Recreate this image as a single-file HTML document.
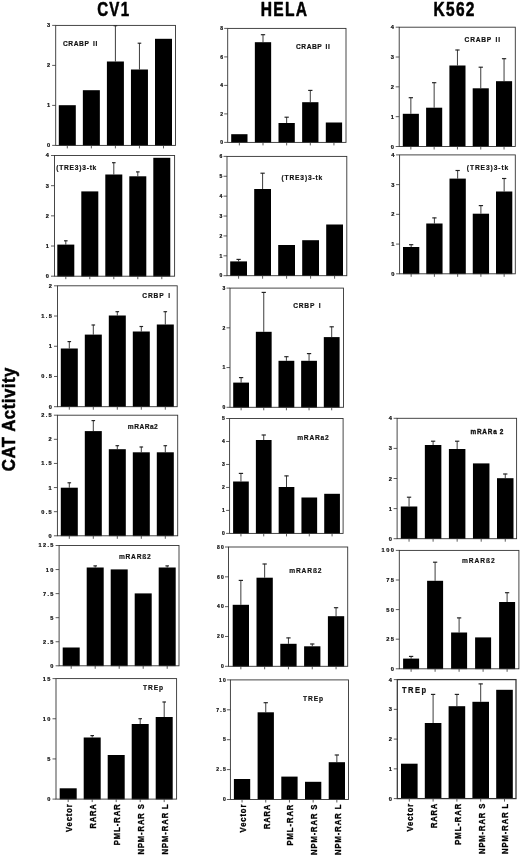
<!DOCTYPE html>
<html lang="en">
<head>
<meta charset="utf-8">
<title>CAT Activity</title>
<style>
html,body{margin:0;padding:0;background:#fff;}
body{width:520px;height:856px;overflow:hidden;}
svg{display:block;}
svg text{font-family:"Liberation Sans",Arial,Helvetica,sans-serif;font-weight:bold;}
</style>
</head>
<body>
<svg width="520" height="856" viewBox="0 0 520 856" font-weight="bold" fill="#000">
<rect x="0" y="0" width="520" height="856" fill="#fff"/>
<text transform="translate(97.2,15.7) scale(0.775,1)" font-size="19.5" letter-spacing="1.6" stroke="#000" stroke-width="0.55" stroke-linejoin="round">CV1</text>
<text transform="translate(260.8,15.7) scale(0.8,1)" font-size="19.5" letter-spacing="1.6" stroke="#000" stroke-width="0.55" stroke-linejoin="round">HELA</text>
<text transform="translate(433.6,15.7) scale(0.795,1)" font-size="19.5" letter-spacing="1.6" stroke="#000" stroke-width="0.55" stroke-linejoin="round">K562</text>
<text transform="translate(14.9,471.2) rotate(-90) scale(0.875,1)" font-size="19.2" letter-spacing="0.6" stroke="#000" stroke-width="0.55" stroke-linejoin="round">CAT Activity</text>
<g>
<rect x="58.80" y="105.20" width="17.00" height="40.50" fill="#000"/>
<path d="M67.30 145.40V148.40" stroke="#333" stroke-width="0.8" fill="none"/>
<rect x="82.85" y="90.20" width="17.00" height="55.50" fill="#000"/>
<path d="M91.35 145.40V148.40" stroke="#333" stroke-width="0.8" fill="none"/>
<path d="M115.40 61.50V25.50" stroke="#333" stroke-width="0.95" fill="none"/><path d="M113.60 25.70H117.20" stroke="#222" stroke-width="1.15" fill="none"/>
<rect x="106.90" y="61.50" width="17.00" height="84.20" fill="#000"/>
<path d="M115.40 145.40V148.40" stroke="#333" stroke-width="0.8" fill="none"/>
<path d="M139.45 69.50V43.00" stroke="#333" stroke-width="0.95" fill="none"/><path d="M137.65 43.20H141.25" stroke="#222" stroke-width="1.15" fill="none"/>
<rect x="130.95" y="69.50" width="17.00" height="76.20" fill="#000"/>
<path d="M139.45 145.40V148.40" stroke="#333" stroke-width="0.8" fill="none"/>
<rect x="155.00" y="38.80" width="17.00" height="106.90" fill="#000"/>
<path d="M163.50 145.40V148.40" stroke="#333" stroke-width="0.8" fill="none"/>
<rect x="55.70" y="25.40" width="119.80" height="120.00" fill="none" stroke="#333" stroke-width="0.9"/>
<path d="M52.20 145.40H55.70" stroke="#333" stroke-width="0.8" fill="none"/>
<text x="51.35" y="147.39" font-size="5.6" text-anchor="end" letter-spacing="1.35" fill="#111" stroke="#111" stroke-width="0.22">0</text>
<path d="M52.20 105.40H55.70" stroke="#333" stroke-width="0.8" fill="none"/>
<text x="51.35" y="107.39" font-size="5.6" text-anchor="end" letter-spacing="1.35" fill="#111" stroke="#111" stroke-width="0.22">1</text>
<path d="M52.20 65.40H55.70" stroke="#333" stroke-width="0.8" fill="none"/>
<text x="51.35" y="67.39" font-size="5.6" text-anchor="end" letter-spacing="1.35" fill="#111" stroke="#111" stroke-width="0.22">2</text>
<path d="M52.20 25.40H55.70" stroke="#333" stroke-width="0.8" fill="none"/>
<text x="51.35" y="27.39" font-size="5.6" text-anchor="end" letter-spacing="1.35" fill="#111" stroke="#111" stroke-width="0.22">3</text>
<text transform="translate(62.9,46.30) scale(0.92,1)" font-size="7.21" textLength="37.39" lengthAdjust="spacing" word-spacing="1.2" fill="#111" stroke="#111" stroke-width="0.2">CRABP II</text>
</g>
<g>
<path d="M65.80 244.60V240.60" stroke="#333" stroke-width="0.95" fill="none"/><path d="M64.00 240.80H67.60" stroke="#222" stroke-width="1.15" fill="none"/>
<rect x="57.30" y="244.60" width="17.00" height="31.90" fill="#000"/>
<path d="M65.80 276.20V279.20" stroke="#333" stroke-width="0.8" fill="none"/>
<rect x="81.30" y="191.40" width="17.00" height="85.10" fill="#000"/>
<path d="M89.80 276.20V279.20" stroke="#333" stroke-width="0.8" fill="none"/>
<path d="M113.80 174.50V162.50" stroke="#333" stroke-width="0.95" fill="none"/><path d="M112.00 162.70H115.60" stroke="#222" stroke-width="1.15" fill="none"/>
<rect x="105.30" y="174.50" width="17.00" height="102.00" fill="#000"/>
<path d="M113.80 276.20V279.20" stroke="#333" stroke-width="0.8" fill="none"/>
<path d="M137.80 176.30V171.70" stroke="#333" stroke-width="0.95" fill="none"/><path d="M136.00 171.90H139.60" stroke="#222" stroke-width="1.15" fill="none"/>
<rect x="129.30" y="176.30" width="17.00" height="100.20" fill="#000"/>
<path d="M137.80 276.20V279.20" stroke="#333" stroke-width="0.8" fill="none"/>
<rect x="153.30" y="157.80" width="17.00" height="118.70" fill="#000"/>
<path d="M161.80 276.20V279.20" stroke="#333" stroke-width="0.8" fill="none"/>
<rect x="54.50" y="155.50" width="120.10" height="120.70" fill="none" stroke="#333" stroke-width="0.9"/>
<path d="M51.00 276.20H54.50" stroke="#333" stroke-width="0.8" fill="none"/>
<text x="50.15" y="278.19" font-size="5.6" text-anchor="end" letter-spacing="1.35" fill="#111" stroke="#111" stroke-width="0.22">0</text>
<path d="M51.00 246.02H54.50" stroke="#333" stroke-width="0.8" fill="none"/>
<text x="50.15" y="248.01" font-size="5.6" text-anchor="end" letter-spacing="1.35" fill="#111" stroke="#111" stroke-width="0.22">1</text>
<path d="M51.00 215.85H54.50" stroke="#333" stroke-width="0.8" fill="none"/>
<text x="50.15" y="217.84" font-size="5.6" text-anchor="end" letter-spacing="1.35" fill="#111" stroke="#111" stroke-width="0.22">2</text>
<path d="M51.00 185.68H54.50" stroke="#333" stroke-width="0.8" fill="none"/>
<text x="50.15" y="187.66" font-size="5.6" text-anchor="end" letter-spacing="1.35" fill="#111" stroke="#111" stroke-width="0.22">3</text>
<path d="M51.00 155.50H54.50" stroke="#333" stroke-width="0.8" fill="none"/>
<text x="50.15" y="157.49" font-size="5.6" text-anchor="end" letter-spacing="1.35" fill="#111" stroke="#111" stroke-width="0.22">4</text>
<text transform="translate(56.3,170.40) scale(0.92,1)" font-size="7.21" textLength="43.48" lengthAdjust="spacing" word-spacing="1.2" fill="#111" stroke="#111" stroke-width="0.2">(TRE3)3-tk</text>
</g>
<g>
<path d="M69.30 348.50V341.40" stroke="#333" stroke-width="0.95" fill="none"/><path d="M67.50 341.60H71.10" stroke="#222" stroke-width="1.15" fill="none"/>
<rect x="60.80" y="348.50" width="17.00" height="58.50" fill="#000"/>
<path d="M69.30 406.70V409.70" stroke="#333" stroke-width="0.8" fill="none"/>
<path d="M93.30 334.60V324.80" stroke="#333" stroke-width="0.95" fill="none"/><path d="M91.50 325.00H95.10" stroke="#222" stroke-width="1.15" fill="none"/>
<rect x="84.80" y="334.60" width="17.00" height="72.40" fill="#000"/>
<path d="M93.30 406.70V409.70" stroke="#333" stroke-width="0.8" fill="none"/>
<path d="M117.30 315.50V311.50" stroke="#333" stroke-width="0.95" fill="none"/><path d="M115.50 311.70H119.10" stroke="#222" stroke-width="1.15" fill="none"/>
<rect x="108.80" y="315.50" width="17.00" height="91.50" fill="#000"/>
<path d="M117.30 406.70V409.70" stroke="#333" stroke-width="0.8" fill="none"/>
<path d="M141.30 331.50V326.30" stroke="#333" stroke-width="0.95" fill="none"/><path d="M139.50 326.50H143.10" stroke="#222" stroke-width="1.15" fill="none"/>
<rect x="132.80" y="331.50" width="17.00" height="75.50" fill="#000"/>
<path d="M141.30 406.70V409.70" stroke="#333" stroke-width="0.8" fill="none"/>
<path d="M165.30 324.50V311.50" stroke="#333" stroke-width="0.95" fill="none"/><path d="M163.50 311.70H167.10" stroke="#222" stroke-width="1.15" fill="none"/>
<rect x="156.80" y="324.50" width="17.00" height="82.50" fill="#000"/>
<path d="M165.30 406.70V409.70" stroke="#333" stroke-width="0.8" fill="none"/>
<rect x="57.50" y="285.80" width="119.70" height="120.90" fill="none" stroke="#333" stroke-width="0.9"/>
<path d="M54.00 406.70H57.50" stroke="#333" stroke-width="0.8" fill="none"/>
<text x="53.15" y="408.69" font-size="5.6" text-anchor="end" letter-spacing="1.35" fill="#111" stroke="#111" stroke-width="0.22">0</text>
<path d="M54.00 376.48H57.50" stroke="#333" stroke-width="0.8" fill="none"/>
<text x="53.15" y="378.46" font-size="5.6" text-anchor="end" letter-spacing="1.35" fill="#111" stroke="#111" stroke-width="0.22">0.5</text>
<path d="M54.00 346.25H57.50" stroke="#333" stroke-width="0.8" fill="none"/>
<text x="53.15" y="348.24" font-size="5.6" text-anchor="end" letter-spacing="1.35" fill="#111" stroke="#111" stroke-width="0.22">1</text>
<path d="M54.00 316.02H57.50" stroke="#333" stroke-width="0.8" fill="none"/>
<text x="53.15" y="318.01" font-size="5.6" text-anchor="end" letter-spacing="1.35" fill="#111" stroke="#111" stroke-width="0.22">1.5</text>
<path d="M54.00 285.80H57.50" stroke="#333" stroke-width="0.8" fill="none"/>
<text x="53.15" y="287.79" font-size="5.6" text-anchor="end" letter-spacing="1.35" fill="#111" stroke="#111" stroke-width="0.22">2</text>
<text transform="translate(142.3,297.60) scale(0.92,1)" font-size="7.21" textLength="30.11" lengthAdjust="spacing" word-spacing="1.2" fill="#111" stroke="#111" stroke-width="0.2">CRBP I</text>
</g>
<g>
<path d="M69.30 487.70V482.60" stroke="#333" stroke-width="0.95" fill="none"/><path d="M67.50 482.80H71.10" stroke="#222" stroke-width="1.15" fill="none"/>
<rect x="60.80" y="487.70" width="17.00" height="48.40" fill="#000"/>
<path d="M69.30 535.80V538.80" stroke="#333" stroke-width="0.8" fill="none"/>
<path d="M93.30 431.10V420.40" stroke="#333" stroke-width="0.95" fill="none"/><path d="M91.50 420.60H95.10" stroke="#222" stroke-width="1.15" fill="none"/>
<rect x="84.80" y="431.10" width="17.00" height="105.00" fill="#000"/>
<path d="M93.30 535.80V538.80" stroke="#333" stroke-width="0.8" fill="none"/>
<path d="M117.30 449.20V445.50" stroke="#333" stroke-width="0.95" fill="none"/><path d="M115.50 445.70H119.10" stroke="#222" stroke-width="1.15" fill="none"/>
<rect x="108.80" y="449.20" width="17.00" height="86.90" fill="#000"/>
<path d="M117.30 535.80V538.80" stroke="#333" stroke-width="0.8" fill="none"/>
<path d="M141.30 452.30V446.80" stroke="#333" stroke-width="0.95" fill="none"/><path d="M139.50 447.00H143.10" stroke="#222" stroke-width="1.15" fill="none"/>
<rect x="132.80" y="452.30" width="17.00" height="83.80" fill="#000"/>
<path d="M141.30 535.80V538.80" stroke="#333" stroke-width="0.8" fill="none"/>
<path d="M165.30 452.30V445.50" stroke="#333" stroke-width="0.95" fill="none"/><path d="M163.50 445.70H167.10" stroke="#222" stroke-width="1.15" fill="none"/>
<rect x="156.80" y="452.30" width="17.00" height="83.80" fill="#000"/>
<path d="M165.30 535.80V538.80" stroke="#333" stroke-width="0.8" fill="none"/>
<rect x="57.40" y="415.20" width="120.30" height="120.60" fill="none" stroke="#333" stroke-width="0.9"/>
<path d="M53.90 535.80H57.40" stroke="#333" stroke-width="0.8" fill="none"/>
<text x="53.05" y="537.79" font-size="5.6" text-anchor="end" letter-spacing="1.35" fill="#111" stroke="#111" stroke-width="0.22">0</text>
<path d="M53.90 511.68H57.40" stroke="#333" stroke-width="0.8" fill="none"/>
<text x="53.05" y="513.67" font-size="5.6" text-anchor="end" letter-spacing="1.35" fill="#111" stroke="#111" stroke-width="0.22">0.5</text>
<path d="M53.90 487.56H57.40" stroke="#333" stroke-width="0.8" fill="none"/>
<text x="53.05" y="489.55" font-size="5.6" text-anchor="end" letter-spacing="1.35" fill="#111" stroke="#111" stroke-width="0.22">1</text>
<path d="M53.90 463.44H57.40" stroke="#333" stroke-width="0.8" fill="none"/>
<text x="53.05" y="465.43" font-size="5.6" text-anchor="end" letter-spacing="1.35" fill="#111" stroke="#111" stroke-width="0.22">1.5</text>
<path d="M53.90 439.32H57.40" stroke="#333" stroke-width="0.8" fill="none"/>
<text x="53.05" y="441.31" font-size="5.6" text-anchor="end" letter-spacing="1.35" fill="#111" stroke="#111" stroke-width="0.22">2</text>
<path d="M53.90 415.20H57.40" stroke="#333" stroke-width="0.8" fill="none"/>
<text x="53.05" y="417.19" font-size="5.6" text-anchor="end" letter-spacing="1.35" fill="#111" stroke="#111" stroke-width="0.22">2.5</text>
<text transform="translate(127.8,429.40) scale(0.92,1)" font-size="7.21" textLength="32.61" lengthAdjust="spacing" word-spacing="1.2" fill="#111" stroke="#111" stroke-width="0.2">mRARa2</text>
</g>
<g>
<rect x="62.70" y="647.50" width="17.00" height="18.60" fill="#000"/>
<path d="M71.20 665.80V668.80" stroke="#333" stroke-width="0.8" fill="none"/>
<path d="M95.20 567.50V565.70" stroke="#333" stroke-width="0.95" fill="none"/><path d="M93.40 565.90H97.00" stroke="#222" stroke-width="1.15" fill="none"/>
<rect x="86.70" y="567.50" width="17.00" height="98.60" fill="#000"/>
<path d="M95.20 665.80V668.80" stroke="#333" stroke-width="0.8" fill="none"/>
<rect x="110.70" y="569.40" width="17.00" height="96.70" fill="#000"/>
<path d="M119.20 665.80V668.80" stroke="#333" stroke-width="0.8" fill="none"/>
<rect x="134.70" y="593.40" width="17.00" height="72.70" fill="#000"/>
<path d="M143.20 665.80V668.80" stroke="#333" stroke-width="0.8" fill="none"/>
<path d="M167.20 567.50V565.70" stroke="#333" stroke-width="0.95" fill="none"/><path d="M165.40 565.90H169.00" stroke="#222" stroke-width="1.15" fill="none"/>
<rect x="158.70" y="567.50" width="17.00" height="98.60" fill="#000"/>
<path d="M167.20 665.80V668.80" stroke="#333" stroke-width="0.8" fill="none"/>
<rect x="59.10" y="545.50" width="119.90" height="120.30" fill="none" stroke="#333" stroke-width="0.9"/>
<path d="M55.60 665.80H59.10" stroke="#333" stroke-width="0.8" fill="none"/>
<text x="54.75" y="667.79" font-size="5.6" text-anchor="end" letter-spacing="1.35" fill="#111" stroke="#111" stroke-width="0.22">0</text>
<path d="M55.60 641.74H59.10" stroke="#333" stroke-width="0.8" fill="none"/>
<text x="54.75" y="643.73" font-size="5.6" text-anchor="end" letter-spacing="1.35" fill="#111" stroke="#111" stroke-width="0.22">2.5</text>
<path d="M55.60 617.68H59.10" stroke="#333" stroke-width="0.8" fill="none"/>
<text x="54.75" y="619.67" font-size="5.6" text-anchor="end" letter-spacing="1.35" fill="#111" stroke="#111" stroke-width="0.22">5</text>
<path d="M55.60 593.62H59.10" stroke="#333" stroke-width="0.8" fill="none"/>
<text x="54.75" y="595.61" font-size="5.6" text-anchor="end" letter-spacing="1.35" fill="#111" stroke="#111" stroke-width="0.22">7.5</text>
<path d="M55.60 569.56H59.10" stroke="#333" stroke-width="0.8" fill="none"/>
<text x="54.75" y="571.55" font-size="5.6" text-anchor="end" letter-spacing="1.35" fill="#111" stroke="#111" stroke-width="0.22">10</text>
<path d="M55.60 545.50H59.10" stroke="#333" stroke-width="0.8" fill="none"/>
<text x="54.75" y="547.49" font-size="5.6" text-anchor="end" letter-spacing="1.35" fill="#111" stroke="#111" stroke-width="0.22">12.5</text>
<text transform="translate(119.0,558.90) scale(0.92,1)" font-size="7.21" textLength="34.35" lengthAdjust="spacing" word-spacing="1.2" fill="#111" stroke="#111" stroke-width="0.2">mRARß2</text>
</g>
<g>
<rect x="59.70" y="788.30" width="17.00" height="11.10" fill="#000"/>
<path d="M68.20 799.10V802.10" stroke="#333" stroke-width="0.8" fill="none"/>
<path d="M92.20 737.50V735.40" stroke="#333" stroke-width="0.95" fill="none"/><path d="M90.40 735.60H94.00" stroke="#222" stroke-width="1.15" fill="none"/>
<rect x="83.70" y="737.50" width="17.00" height="61.90" fill="#000"/>
<path d="M92.20 799.10V802.10" stroke="#333" stroke-width="0.8" fill="none"/>
<rect x="107.70" y="755.00" width="17.00" height="44.40" fill="#000"/>
<path d="M116.20 799.10V802.10" stroke="#333" stroke-width="0.8" fill="none"/>
<path d="M140.20 724.00V718.50" stroke="#333" stroke-width="0.95" fill="none"/><path d="M138.40 718.70H142.00" stroke="#222" stroke-width="1.15" fill="none"/>
<rect x="131.70" y="724.00" width="17.00" height="75.40" fill="#000"/>
<path d="M140.20 799.10V802.10" stroke="#333" stroke-width="0.8" fill="none"/>
<path d="M164.20 717.00V701.80" stroke="#333" stroke-width="0.95" fill="none"/><path d="M162.40 702.00H166.00" stroke="#222" stroke-width="1.15" fill="none"/>
<rect x="155.70" y="717.00" width="17.00" height="82.40" fill="#000"/>
<path d="M164.20 799.10V802.10" stroke="#333" stroke-width="0.8" fill="none"/>
<rect x="56.00" y="678.60" width="120.60" height="120.50" fill="none" stroke="#333" stroke-width="0.9"/>
<path d="M52.50 799.10H56.00" stroke="#333" stroke-width="0.8" fill="none"/>
<text x="51.65" y="801.09" font-size="5.6" text-anchor="end" letter-spacing="1.35" fill="#111" stroke="#111" stroke-width="0.22">0</text>
<path d="M52.50 758.93H56.00" stroke="#333" stroke-width="0.8" fill="none"/>
<text x="51.65" y="760.92" font-size="5.6" text-anchor="end" letter-spacing="1.35" fill="#111" stroke="#111" stroke-width="0.22">5</text>
<path d="M52.50 718.77H56.00" stroke="#333" stroke-width="0.8" fill="none"/>
<text x="51.65" y="720.75" font-size="5.6" text-anchor="end" letter-spacing="1.35" fill="#111" stroke="#111" stroke-width="0.22">10</text>
<path d="M52.50 678.60H56.00" stroke="#333" stroke-width="0.8" fill="none"/>
<text x="51.65" y="680.59" font-size="5.6" text-anchor="end" letter-spacing="1.35" fill="#111" stroke="#111" stroke-width="0.22">15</text>
<text transform="translate(143.0,690.10) scale(0.92,1)" font-size="7.21" textLength="21.74" lengthAdjust="spacing" word-spacing="1.2" fill="#111" stroke="#111" stroke-width="0.2">TREp</text>
<text transform="translate(72.10,832.00) rotate(-90) scale(0.9,1)" font-size="8.5" textLength="30.89" lengthAdjust="spacing" fill="#000" stroke="#000" stroke-width="0.3">Vector</text>
<text transform="translate(96.10,828.50) rotate(-90) scale(0.9,1)" font-size="8.5" textLength="27.00" lengthAdjust="spacing" fill="#000" stroke="#000" stroke-width="0.3">RARA</text>
<text transform="translate(120.10,845.20) rotate(-90) scale(0.9,1)" font-size="8.5" textLength="45.56" lengthAdjust="spacing" fill="#000" stroke="#000" stroke-width="0.3">PML-RAR</text>
<text transform="translate(144.10,854.50) rotate(-90) scale(0.9,1)" font-size="8.5" textLength="55.89" lengthAdjust="spacing" fill="#000" stroke="#000" stroke-width="0.3">NPM-RAR S</text>
<text transform="translate(168.10,854.50) rotate(-90) scale(0.9,1)" font-size="8.5" textLength="55.89" lengthAdjust="spacing" fill="#000" stroke="#000" stroke-width="0.3">NPM-RAR L</text>
</g>
<g>
<rect x="231.20" y="134.20" width="16.30" height="8.50" fill="#000"/>
<path d="M239.35 142.40V145.40" stroke="#333" stroke-width="0.8" fill="none"/>
<path d="M263.00 42.20V34.50" stroke="#333" stroke-width="0.95" fill="none"/><path d="M260.85 34.70H265.15" stroke="#222" stroke-width="1.15" fill="none"/>
<rect x="254.85" y="42.20" width="16.30" height="100.50" fill="#000"/>
<path d="M263.00 142.40V145.40" stroke="#333" stroke-width="0.8" fill="none"/>
<path d="M286.65 123.00V117.00" stroke="#333" stroke-width="0.95" fill="none"/><path d="M284.50 117.20H288.80" stroke="#222" stroke-width="1.15" fill="none"/>
<rect x="278.50" y="123.00" width="16.30" height="19.70" fill="#000"/>
<path d="M286.65 142.40V145.40" stroke="#333" stroke-width="0.8" fill="none"/>
<path d="M310.30 102.20V90.20" stroke="#333" stroke-width="0.95" fill="none"/><path d="M308.15 90.40H312.45" stroke="#222" stroke-width="1.15" fill="none"/>
<rect x="302.15" y="102.20" width="16.30" height="40.50" fill="#000"/>
<path d="M310.30 142.40V145.40" stroke="#333" stroke-width="0.8" fill="none"/>
<rect x="325.80" y="122.50" width="16.30" height="20.20" fill="#000"/>
<path d="M333.95 142.40V145.40" stroke="#333" stroke-width="0.8" fill="none"/>
<rect x="227.70" y="28.40" width="118.30" height="114.00" fill="none" stroke="#333" stroke-width="0.9"/>
<path d="M224.20 142.40H227.70" stroke="#333" stroke-width="0.8" fill="none"/>
<text x="224.20" y="144.18" font-size="5.0" text-anchor="end" letter-spacing="1.2" fill="#111" stroke="#111" stroke-width="0.22">0</text>
<path d="M224.20 113.90H227.70" stroke="#333" stroke-width="0.8" fill="none"/>
<text x="224.20" y="115.68" font-size="5.0" text-anchor="end" letter-spacing="1.2" fill="#111" stroke="#111" stroke-width="0.22">2</text>
<path d="M224.20 85.40H227.70" stroke="#333" stroke-width="0.8" fill="none"/>
<text x="224.20" y="87.18" font-size="5.0" text-anchor="end" letter-spacing="1.2" fill="#111" stroke="#111" stroke-width="0.22">4</text>
<path d="M224.20 56.90H227.70" stroke="#333" stroke-width="0.8" fill="none"/>
<text x="224.20" y="58.68" font-size="5.0" text-anchor="end" letter-spacing="1.2" fill="#111" stroke="#111" stroke-width="0.22">6</text>
<path d="M224.20 28.40H227.70" stroke="#333" stroke-width="0.8" fill="none"/>
<text x="224.20" y="30.18" font-size="5.0" text-anchor="end" letter-spacing="1.2" fill="#111" stroke="#111" stroke-width="0.22">8</text>
<text transform="translate(296.0,49.10) scale(0.92,1)" font-size="7.21" textLength="36.74" lengthAdjust="spacing" word-spacing="1.2" fill="#111" stroke="#111" stroke-width="0.2">CRABP II</text>
</g>
<g>
<path d="M238.60 261.40V259.20" stroke="#333" stroke-width="0.95" fill="none"/><path d="M236.45 259.40H240.75" stroke="#222" stroke-width="1.15" fill="none"/>
<rect x="230.20" y="261.40" width="16.80" height="14.60" fill="#000"/>
<path d="M238.60 275.70V278.70" stroke="#333" stroke-width="0.8" fill="none"/>
<path d="M262.60 189.00V173.00" stroke="#333" stroke-width="0.95" fill="none"/><path d="M260.45 173.20H264.75" stroke="#222" stroke-width="1.15" fill="none"/>
<rect x="254.20" y="189.00" width="16.80" height="87.00" fill="#000"/>
<path d="M262.60 275.70V278.70" stroke="#333" stroke-width="0.8" fill="none"/>
<rect x="278.20" y="245.00" width="16.80" height="31.00" fill="#000"/>
<path d="M286.60 275.70V278.70" stroke="#333" stroke-width="0.8" fill="none"/>
<rect x="302.20" y="240.20" width="16.80" height="35.80" fill="#000"/>
<path d="M310.60 275.70V278.70" stroke="#333" stroke-width="0.8" fill="none"/>
<rect x="326.20" y="224.50" width="16.80" height="51.50" fill="#000"/>
<path d="M334.60 275.70V278.70" stroke="#333" stroke-width="0.8" fill="none"/>
<rect x="227.00" y="156.40" width="119.80" height="119.30" fill="none" stroke="#333" stroke-width="0.9"/>
<path d="M223.50 275.70H227.00" stroke="#333" stroke-width="0.8" fill="none"/>
<text x="223.50" y="277.47" font-size="5.0" text-anchor="end" letter-spacing="1.2" fill="#111" stroke="#111" stroke-width="0.22">0</text>
<path d="M223.50 255.82H227.00" stroke="#333" stroke-width="0.8" fill="none"/>
<text x="223.50" y="257.59" font-size="5.0" text-anchor="end" letter-spacing="1.2" fill="#111" stroke="#111" stroke-width="0.22">1</text>
<path d="M223.50 235.93H227.00" stroke="#333" stroke-width="0.8" fill="none"/>
<text x="223.50" y="237.71" font-size="5.0" text-anchor="end" letter-spacing="1.2" fill="#111" stroke="#111" stroke-width="0.22">2</text>
<path d="M223.50 216.05H227.00" stroke="#333" stroke-width="0.8" fill="none"/>
<text x="223.50" y="217.82" font-size="5.0" text-anchor="end" letter-spacing="1.2" fill="#111" stroke="#111" stroke-width="0.22">3</text>
<path d="M223.50 196.17H227.00" stroke="#333" stroke-width="0.8" fill="none"/>
<text x="223.50" y="197.94" font-size="5.0" text-anchor="end" letter-spacing="1.2" fill="#111" stroke="#111" stroke-width="0.22">4</text>
<path d="M223.50 176.28H227.00" stroke="#333" stroke-width="0.8" fill="none"/>
<text x="223.50" y="178.06" font-size="5.0" text-anchor="end" letter-spacing="1.2" fill="#111" stroke="#111" stroke-width="0.22">5</text>
<path d="M223.50 156.40H227.00" stroke="#333" stroke-width="0.8" fill="none"/>
<text x="223.50" y="158.17" font-size="5.0" text-anchor="end" letter-spacing="1.2" fill="#111" stroke="#111" stroke-width="0.22">6</text>
<text transform="translate(281.5,179.90) scale(0.92,1)" font-size="7.21" textLength="44.35" lengthAdjust="spacing" word-spacing="1.2" fill="#111" stroke="#111" stroke-width="0.2">(TRE3)3-tk</text>
</g>
<g>
<path d="M241.10 382.60V377.40" stroke="#333" stroke-width="0.95" fill="none"/><path d="M238.95 377.60H243.25" stroke="#222" stroke-width="1.15" fill="none"/>
<rect x="233.20" y="382.60" width="15.80" height="25.00" fill="#000"/>
<path d="M241.10 407.30V410.30" stroke="#333" stroke-width="0.8" fill="none"/>
<path d="M263.75 331.80V292.20" stroke="#333" stroke-width="0.95" fill="none"/><path d="M261.60 292.40H265.90" stroke="#222" stroke-width="1.15" fill="none"/>
<rect x="255.85" y="331.80" width="15.80" height="75.80" fill="#000"/>
<path d="M263.75 407.30V410.30" stroke="#333" stroke-width="0.8" fill="none"/>
<path d="M286.40 360.80V356.50" stroke="#333" stroke-width="0.95" fill="none"/><path d="M284.25 356.70H288.55" stroke="#222" stroke-width="1.15" fill="none"/>
<rect x="278.50" y="360.80" width="15.80" height="46.80" fill="#000"/>
<path d="M286.40 407.30V410.30" stroke="#333" stroke-width="0.8" fill="none"/>
<path d="M309.05 360.80V353.40" stroke="#333" stroke-width="0.95" fill="none"/><path d="M306.90 353.60H311.20" stroke="#222" stroke-width="1.15" fill="none"/>
<rect x="301.15" y="360.80" width="15.80" height="46.80" fill="#000"/>
<path d="M309.05 407.30V410.30" stroke="#333" stroke-width="0.8" fill="none"/>
<path d="M331.70 337.10V326.60" stroke="#333" stroke-width="0.95" fill="none"/><path d="M329.55 326.80H333.85" stroke="#222" stroke-width="1.15" fill="none"/>
<rect x="323.80" y="337.10" width="15.80" height="70.50" fill="#000"/>
<path d="M331.70 407.30V410.30" stroke="#333" stroke-width="0.8" fill="none"/>
<rect x="230.00" y="288.10" width="113.50" height="119.20" fill="none" stroke="#333" stroke-width="0.9"/>
<path d="M226.50 407.30H230.00" stroke="#333" stroke-width="0.8" fill="none"/>
<text x="226.50" y="409.07" font-size="5.0" text-anchor="end" letter-spacing="1.2" fill="#111" stroke="#111" stroke-width="0.22">0</text>
<path d="M226.50 367.57H230.00" stroke="#333" stroke-width="0.8" fill="none"/>
<text x="226.50" y="369.34" font-size="5.0" text-anchor="end" letter-spacing="1.2" fill="#111" stroke="#111" stroke-width="0.22">1</text>
<path d="M226.50 327.83H230.00" stroke="#333" stroke-width="0.8" fill="none"/>
<text x="226.50" y="329.61" font-size="5.0" text-anchor="end" letter-spacing="1.2" fill="#111" stroke="#111" stroke-width="0.22">2</text>
<path d="M226.50 288.10H230.00" stroke="#333" stroke-width="0.8" fill="none"/>
<text x="226.50" y="289.88" font-size="5.0" text-anchor="end" letter-spacing="1.2" fill="#111" stroke="#111" stroke-width="0.22">3</text>
<text transform="translate(293.2,308.40) scale(0.92,1)" font-size="7.21" textLength="29.78" lengthAdjust="spacing" word-spacing="1.2" fill="#111" stroke="#111" stroke-width="0.2">CRBP I</text>
</g>
<g>
<path d="M240.95 481.50V473.20" stroke="#333" stroke-width="0.95" fill="none"/><path d="M238.80 473.40H243.10" stroke="#222" stroke-width="1.15" fill="none"/>
<rect x="233.10" y="481.50" width="15.70" height="52.20" fill="#000"/>
<path d="M240.95 533.40V536.40" stroke="#333" stroke-width="0.8" fill="none"/>
<path d="M263.73 440.00V434.80" stroke="#333" stroke-width="0.95" fill="none"/><path d="M261.58 435.00H265.88" stroke="#222" stroke-width="1.15" fill="none"/>
<rect x="255.88" y="440.00" width="15.70" height="93.70" fill="#000"/>
<path d="M263.73 533.40V536.40" stroke="#333" stroke-width="0.8" fill="none"/>
<path d="M286.51 487.00V475.70" stroke="#333" stroke-width="0.95" fill="none"/><path d="M284.36 475.90H288.66" stroke="#222" stroke-width="1.15" fill="none"/>
<rect x="278.66" y="487.00" width="15.70" height="46.70" fill="#000"/>
<path d="M286.51 533.40V536.40" stroke="#333" stroke-width="0.8" fill="none"/>
<rect x="301.44" y="497.50" width="15.70" height="36.20" fill="#000"/>
<path d="M309.29 533.40V536.40" stroke="#333" stroke-width="0.8" fill="none"/>
<rect x="324.22" y="493.80" width="15.70" height="39.90" fill="#000"/>
<path d="M332.07 533.40V536.40" stroke="#333" stroke-width="0.8" fill="none"/>
<rect x="229.60" y="418.50" width="113.50" height="114.90" fill="none" stroke="#333" stroke-width="0.9"/>
<path d="M226.10 533.40H229.60" stroke="#333" stroke-width="0.8" fill="none"/>
<text x="226.10" y="535.17" font-size="5.0" text-anchor="end" letter-spacing="1.2" fill="#111" stroke="#111" stroke-width="0.22">0</text>
<path d="M226.10 510.42H229.60" stroke="#333" stroke-width="0.8" fill="none"/>
<text x="226.10" y="512.19" font-size="5.0" text-anchor="end" letter-spacing="1.2" fill="#111" stroke="#111" stroke-width="0.22">1</text>
<path d="M226.10 487.44H229.60" stroke="#333" stroke-width="0.8" fill="none"/>
<text x="226.10" y="489.21" font-size="5.0" text-anchor="end" letter-spacing="1.2" fill="#111" stroke="#111" stroke-width="0.22">2</text>
<path d="M226.10 464.46H229.60" stroke="#333" stroke-width="0.8" fill="none"/>
<text x="226.10" y="466.23" font-size="5.0" text-anchor="end" letter-spacing="1.2" fill="#111" stroke="#111" stroke-width="0.22">3</text>
<path d="M226.10 441.48H229.60" stroke="#333" stroke-width="0.8" fill="none"/>
<text x="226.10" y="443.25" font-size="5.0" text-anchor="end" letter-spacing="1.2" fill="#111" stroke="#111" stroke-width="0.22">4</text>
<path d="M226.10 418.50H229.60" stroke="#333" stroke-width="0.8" fill="none"/>
<text x="226.10" y="420.27" font-size="5.0" text-anchor="end" letter-spacing="1.2" fill="#111" stroke="#111" stroke-width="0.22">5</text>
<text transform="translate(297.2,440.20) scale(0.92,1)" font-size="7.21" textLength="34.13" lengthAdjust="spacing" word-spacing="1.2" fill="#111" stroke="#111" stroke-width="0.2">mRARa2</text>
</g>
<g>
<path d="M240.85 604.80V580.20" stroke="#333" stroke-width="0.95" fill="none"/><path d="M238.70 580.40H243.00" stroke="#222" stroke-width="1.15" fill="none"/>
<rect x="232.70" y="604.80" width="16.30" height="61.80" fill="#000"/>
<path d="M240.85 666.30V669.30" stroke="#333" stroke-width="0.8" fill="none"/>
<path d="M264.65 577.70V563.80" stroke="#333" stroke-width="0.95" fill="none"/><path d="M262.50 564.00H266.80" stroke="#222" stroke-width="1.15" fill="none"/>
<rect x="256.50" y="577.70" width="16.30" height="88.90" fill="#000"/>
<path d="M264.65 666.30V669.30" stroke="#333" stroke-width="0.8" fill="none"/>
<path d="M288.45 643.80V637.70" stroke="#333" stroke-width="0.95" fill="none"/><path d="M286.30 637.90H290.60" stroke="#222" stroke-width="1.15" fill="none"/>
<rect x="280.30" y="643.80" width="16.30" height="22.80" fill="#000"/>
<path d="M288.45 666.30V669.30" stroke="#333" stroke-width="0.8" fill="none"/>
<path d="M312.25 646.30V643.80" stroke="#333" stroke-width="0.95" fill="none"/><path d="M310.10 644.00H314.40" stroke="#222" stroke-width="1.15" fill="none"/>
<rect x="304.10" y="646.30" width="16.30" height="20.30" fill="#000"/>
<path d="M312.25 666.30V669.30" stroke="#333" stroke-width="0.8" fill="none"/>
<path d="M336.05 616.20V607.50" stroke="#333" stroke-width="0.95" fill="none"/><path d="M333.90 607.70H338.20" stroke="#222" stroke-width="1.15" fill="none"/>
<rect x="327.90" y="616.20" width="16.30" height="50.40" fill="#000"/>
<path d="M336.05 666.30V669.30" stroke="#333" stroke-width="0.8" fill="none"/>
<rect x="228.50" y="547.00" width="119.20" height="119.30" fill="none" stroke="#333" stroke-width="0.9"/>
<path d="M225.00 666.30H228.50" stroke="#333" stroke-width="0.8" fill="none"/>
<text x="225.00" y="668.07" font-size="5.0" text-anchor="end" letter-spacing="1.2" fill="#111" stroke="#111" stroke-width="0.22">0</text>
<path d="M225.00 636.47H228.50" stroke="#333" stroke-width="0.8" fill="none"/>
<text x="225.00" y="638.25" font-size="5.0" text-anchor="end" letter-spacing="1.2" fill="#111" stroke="#111" stroke-width="0.22">20</text>
<path d="M225.00 606.65H228.50" stroke="#333" stroke-width="0.8" fill="none"/>
<text x="225.00" y="608.42" font-size="5.0" text-anchor="end" letter-spacing="1.2" fill="#111" stroke="#111" stroke-width="0.22">40</text>
<path d="M225.00 576.83H228.50" stroke="#333" stroke-width="0.8" fill="none"/>
<text x="225.00" y="578.60" font-size="5.0" text-anchor="end" letter-spacing="1.2" fill="#111" stroke="#111" stroke-width="0.22">60</text>
<path d="M225.00 547.00H228.50" stroke="#333" stroke-width="0.8" fill="none"/>
<text x="225.00" y="548.77" font-size="5.0" text-anchor="end" letter-spacing="1.2" fill="#111" stroke="#111" stroke-width="0.22">80</text>
<text transform="translate(289.2,573.10) scale(0.92,1)" font-size="7.21" textLength="35.11" lengthAdjust="spacing" word-spacing="1.2" fill="#111" stroke="#111" stroke-width="0.2">mRARß2</text>
</g>
<g>
<rect x="233.90" y="779.00" width="16.30" height="20.80" fill="#000"/>
<path d="M242.05 799.50V802.50" stroke="#333" stroke-width="0.8" fill="none"/>
<path d="M265.75 712.30V702.50" stroke="#333" stroke-width="0.95" fill="none"/><path d="M263.60 702.70H267.90" stroke="#222" stroke-width="1.15" fill="none"/>
<rect x="257.60" y="712.30" width="16.30" height="87.50" fill="#000"/>
<path d="M265.75 799.50V802.50" stroke="#333" stroke-width="0.8" fill="none"/>
<rect x="281.30" y="776.60" width="16.30" height="23.20" fill="#000"/>
<path d="M289.45 799.50V802.50" stroke="#333" stroke-width="0.8" fill="none"/>
<rect x="305.00" y="781.80" width="16.30" height="18.00" fill="#000"/>
<path d="M313.15 799.50V802.50" stroke="#333" stroke-width="0.8" fill="none"/>
<path d="M336.85 762.20V754.80" stroke="#333" stroke-width="0.95" fill="none"/><path d="M334.70 755.00H339.00" stroke="#222" stroke-width="1.15" fill="none"/>
<rect x="328.70" y="762.20" width="16.30" height="37.60" fill="#000"/>
<path d="M336.85 799.50V802.50" stroke="#333" stroke-width="0.8" fill="none"/>
<rect x="230.40" y="679.90" width="118.10" height="119.60" fill="none" stroke="#333" stroke-width="0.9"/>
<path d="M226.90 799.50H230.40" stroke="#333" stroke-width="0.8" fill="none"/>
<text x="226.90" y="801.27" font-size="5.0" text-anchor="end" letter-spacing="1.2" fill="#111" stroke="#111" stroke-width="0.22">0</text>
<path d="M226.90 769.60H230.40" stroke="#333" stroke-width="0.8" fill="none"/>
<text x="226.90" y="771.38" font-size="5.0" text-anchor="end" letter-spacing="1.2" fill="#111" stroke="#111" stroke-width="0.22">2.5</text>
<path d="M226.90 739.70H230.40" stroke="#333" stroke-width="0.8" fill="none"/>
<text x="226.90" y="741.48" font-size="5.0" text-anchor="end" letter-spacing="1.2" fill="#111" stroke="#111" stroke-width="0.22">5</text>
<path d="M226.90 709.80H230.40" stroke="#333" stroke-width="0.8" fill="none"/>
<text x="226.90" y="711.57" font-size="5.0" text-anchor="end" letter-spacing="1.2" fill="#111" stroke="#111" stroke-width="0.22">7.5</text>
<path d="M226.90 679.90H230.40" stroke="#333" stroke-width="0.8" fill="none"/>
<text x="226.90" y="681.67" font-size="5.0" text-anchor="end" letter-spacing="1.2" fill="#111" stroke="#111" stroke-width="0.22">10</text>
<text transform="translate(303.0,700.90) scale(0.92,1)" font-size="7.21" textLength="21.74" lengthAdjust="spacing" word-spacing="1.2" fill="#111" stroke="#111" stroke-width="0.2">TREp</text>
<text transform="translate(245.95,832.40) rotate(-90) scale(0.9,1)" font-size="8.5" textLength="30.89" lengthAdjust="spacing" fill="#000" stroke="#000" stroke-width="0.3">Vector</text>
<text transform="translate(269.65,828.90) rotate(-90) scale(0.9,1)" font-size="8.5" textLength="27.00" lengthAdjust="spacing" fill="#000" stroke="#000" stroke-width="0.3">RARA</text>
<text transform="translate(293.35,845.60) rotate(-90) scale(0.9,1)" font-size="8.5" textLength="45.56" lengthAdjust="spacing" fill="#000" stroke="#000" stroke-width="0.3">PML-RAR</text>
<text transform="translate(317.05,854.90) rotate(-90) scale(0.9,1)" font-size="8.5" textLength="55.89" lengthAdjust="spacing" fill="#000" stroke="#000" stroke-width="0.3">NPM-RAR S</text>
<text transform="translate(340.75,854.90) rotate(-90) scale(0.9,1)" font-size="8.5" textLength="55.89" lengthAdjust="spacing" fill="#000" stroke="#000" stroke-width="0.3">NPM-RAR L</text>
</g>
<g>
<path d="M410.85 113.80V97.50" stroke="#333" stroke-width="0.95" fill="none"/><path d="M408.70 97.70H413.00" stroke="#222" stroke-width="1.15" fill="none"/>
<rect x="402.80" y="113.80" width="16.10" height="33.00" fill="#000"/>
<path d="M410.85 146.50V149.50" stroke="#333" stroke-width="0.8" fill="none"/>
<path d="M434.15 107.70V82.50" stroke="#333" stroke-width="0.95" fill="none"/><path d="M432.00 82.70H436.30" stroke="#222" stroke-width="1.15" fill="none"/>
<rect x="426.10" y="107.70" width="16.10" height="39.10" fill="#000"/>
<path d="M434.15 146.50V149.50" stroke="#333" stroke-width="0.8" fill="none"/>
<path d="M457.45 65.50V49.80" stroke="#333" stroke-width="0.95" fill="none"/><path d="M455.30 50.00H459.60" stroke="#222" stroke-width="1.15" fill="none"/>
<rect x="449.40" y="65.50" width="16.10" height="81.30" fill="#000"/>
<path d="M457.45 146.50V149.50" stroke="#333" stroke-width="0.8" fill="none"/>
<path d="M480.75 88.30V67.00" stroke="#333" stroke-width="0.95" fill="none"/><path d="M478.60 67.20H482.90" stroke="#222" stroke-width="1.15" fill="none"/>
<rect x="472.70" y="88.30" width="16.10" height="58.50" fill="#000"/>
<path d="M480.75 146.50V149.50" stroke="#333" stroke-width="0.8" fill="none"/>
<path d="M504.05 81.20V58.50" stroke="#333" stroke-width="0.95" fill="none"/><path d="M501.90 58.70H506.20" stroke="#222" stroke-width="1.15" fill="none"/>
<rect x="496.00" y="81.20" width="16.10" height="65.60" fill="#000"/>
<path d="M504.05 146.50V149.50" stroke="#333" stroke-width="0.8" fill="none"/>
<rect x="399.20" y="27.20" width="116.10" height="119.30" fill="none" stroke="#333" stroke-width="0.9"/>
<path d="M395.70 146.50H399.20" stroke="#333" stroke-width="0.8" fill="none"/>
<text x="395.40" y="148.52" font-size="5.7" text-anchor="end" letter-spacing="1.5" fill="#111" stroke="#111" stroke-width="0.22">0</text>
<path d="M395.70 116.67H399.20" stroke="#333" stroke-width="0.8" fill="none"/>
<text x="395.40" y="118.70" font-size="5.7" text-anchor="end" letter-spacing="1.5" fill="#111" stroke="#111" stroke-width="0.22">1</text>
<path d="M395.70 86.85H399.20" stroke="#333" stroke-width="0.8" fill="none"/>
<text x="395.40" y="88.87" font-size="5.7" text-anchor="end" letter-spacing="1.5" fill="#111" stroke="#111" stroke-width="0.22">2</text>
<path d="M395.70 57.03H399.20" stroke="#333" stroke-width="0.8" fill="none"/>
<text x="395.40" y="59.05" font-size="5.7" text-anchor="end" letter-spacing="1.5" fill="#111" stroke="#111" stroke-width="0.22">3</text>
<path d="M395.70 27.20H399.20" stroke="#333" stroke-width="0.8" fill="none"/>
<text x="395.40" y="29.22" font-size="5.7" text-anchor="end" letter-spacing="1.5" fill="#111" stroke="#111" stroke-width="0.22">4</text>
<text transform="translate(464.6,41.80) scale(0.92,1)" font-size="7.21" textLength="38.48" lengthAdjust="spacing" word-spacing="1.2" fill="#111" stroke="#111" stroke-width="0.2">CRABP II</text>
</g>
<g>
<path d="M411.15 247.00V244.50" stroke="#333" stroke-width="0.95" fill="none"/><path d="M409.00 244.70H413.30" stroke="#222" stroke-width="1.15" fill="none"/>
<rect x="403.00" y="247.00" width="16.30" height="27.10" fill="#000"/>
<path d="M411.15 273.80V276.80" stroke="#333" stroke-width="0.8" fill="none"/>
<path d="M434.40 223.50V217.70" stroke="#333" stroke-width="0.95" fill="none"/><path d="M432.25 217.90H436.55" stroke="#222" stroke-width="1.15" fill="none"/>
<rect x="426.25" y="223.50" width="16.30" height="50.60" fill="#000"/>
<path d="M434.40 273.80V276.80" stroke="#333" stroke-width="0.8" fill="none"/>
<path d="M457.65 178.60V170.30" stroke="#333" stroke-width="0.95" fill="none"/><path d="M455.50 170.50H459.80" stroke="#222" stroke-width="1.15" fill="none"/>
<rect x="449.50" y="178.60" width="16.30" height="95.50" fill="#000"/>
<path d="M457.65 273.80V276.80" stroke="#333" stroke-width="0.8" fill="none"/>
<path d="M480.90 213.70V205.40" stroke="#333" stroke-width="0.95" fill="none"/><path d="M478.75 205.60H483.05" stroke="#222" stroke-width="1.15" fill="none"/>
<rect x="472.75" y="213.70" width="16.30" height="60.40" fill="#000"/>
<path d="M480.90 273.80V276.80" stroke="#333" stroke-width="0.8" fill="none"/>
<path d="M504.15 191.50V178.30" stroke="#333" stroke-width="0.95" fill="none"/><path d="M502.00 178.50H506.30" stroke="#222" stroke-width="1.15" fill="none"/>
<rect x="496.00" y="191.50" width="16.30" height="82.60" fill="#000"/>
<path d="M504.15 273.80V276.80" stroke="#333" stroke-width="0.8" fill="none"/>
<rect x="399.60" y="154.90" width="115.70" height="118.90" fill="none" stroke="#333" stroke-width="0.9"/>
<path d="M396.10 273.80H399.60" stroke="#333" stroke-width="0.8" fill="none"/>
<text x="395.80" y="275.82" font-size="5.7" text-anchor="end" letter-spacing="1.5" fill="#111" stroke="#111" stroke-width="0.22">0</text>
<path d="M396.10 244.08H399.60" stroke="#333" stroke-width="0.8" fill="none"/>
<text x="395.80" y="246.10" font-size="5.7" text-anchor="end" letter-spacing="1.5" fill="#111" stroke="#111" stroke-width="0.22">1</text>
<path d="M396.10 214.35H399.60" stroke="#333" stroke-width="0.8" fill="none"/>
<text x="395.80" y="216.37" font-size="5.7" text-anchor="end" letter-spacing="1.5" fill="#111" stroke="#111" stroke-width="0.22">2</text>
<path d="M396.10 184.62H399.60" stroke="#333" stroke-width="0.8" fill="none"/>
<text x="395.80" y="186.65" font-size="5.7" text-anchor="end" letter-spacing="1.5" fill="#111" stroke="#111" stroke-width="0.22">3</text>
<path d="M396.10 154.90H399.60" stroke="#333" stroke-width="0.8" fill="none"/>
<text x="395.80" y="156.92" font-size="5.7" text-anchor="end" letter-spacing="1.5" fill="#111" stroke="#111" stroke-width="0.22">4</text>
<text transform="translate(466.8,169.90) scale(0.92,1)" font-size="7.21" textLength="45.11" lengthAdjust="spacing" word-spacing="1.2" fill="#111" stroke="#111" stroke-width="0.2">(TRE3)3-tk</text>
</g>
<g>
<path d="M409.05 506.50V497.00" stroke="#333" stroke-width="0.95" fill="none"/><path d="M406.90 497.20H411.20" stroke="#222" stroke-width="1.15" fill="none"/>
<rect x="400.80" y="506.50" width="16.50" height="32.50" fill="#000"/>
<path d="M409.05 538.70V541.70" stroke="#333" stroke-width="0.8" fill="none"/>
<path d="M433.10 445.00V441.00" stroke="#333" stroke-width="0.95" fill="none"/><path d="M430.95 441.20H435.25" stroke="#222" stroke-width="1.15" fill="none"/>
<rect x="424.85" y="445.00" width="16.50" height="94.00" fill="#000"/>
<path d="M433.10 538.70V541.70" stroke="#333" stroke-width="0.8" fill="none"/>
<path d="M457.15 449.00V441.00" stroke="#333" stroke-width="0.95" fill="none"/><path d="M455.00 441.20H459.30" stroke="#222" stroke-width="1.15" fill="none"/>
<rect x="448.90" y="449.00" width="16.50" height="90.00" fill="#000"/>
<path d="M457.15 538.70V541.70" stroke="#333" stroke-width="0.8" fill="none"/>
<rect x="472.95" y="463.40" width="16.50" height="75.60" fill="#000"/>
<path d="M481.20 538.70V541.70" stroke="#333" stroke-width="0.8" fill="none"/>
<path d="M505.25 478.20V473.80" stroke="#333" stroke-width="0.95" fill="none"/><path d="M503.10 474.00H507.40" stroke="#222" stroke-width="1.15" fill="none"/>
<rect x="497.00" y="478.20" width="16.50" height="60.80" fill="#000"/>
<path d="M505.25 538.70V541.70" stroke="#333" stroke-width="0.8" fill="none"/>
<rect x="397.10" y="418.30" width="119.50" height="120.40" fill="none" stroke="#333" stroke-width="0.9"/>
<path d="M393.60 538.70H397.10" stroke="#333" stroke-width="0.8" fill="none"/>
<text x="393.30" y="540.72" font-size="5.7" text-anchor="end" letter-spacing="1.5" fill="#111" stroke="#111" stroke-width="0.22">0</text>
<path d="M393.60 508.60H397.10" stroke="#333" stroke-width="0.8" fill="none"/>
<text x="393.30" y="510.62" font-size="5.7" text-anchor="end" letter-spacing="1.5" fill="#111" stroke="#111" stroke-width="0.22">1</text>
<path d="M393.60 478.50H397.10" stroke="#333" stroke-width="0.8" fill="none"/>
<text x="393.30" y="480.52" font-size="5.7" text-anchor="end" letter-spacing="1.5" fill="#111" stroke="#111" stroke-width="0.22">2</text>
<path d="M393.60 448.40H397.10" stroke="#333" stroke-width="0.8" fill="none"/>
<text x="393.30" y="450.42" font-size="5.7" text-anchor="end" letter-spacing="1.5" fill="#111" stroke="#111" stroke-width="0.22">3</text>
<path d="M393.60 418.30H397.10" stroke="#333" stroke-width="0.8" fill="none"/>
<text x="393.30" y="420.32" font-size="5.7" text-anchor="end" letter-spacing="1.5" fill="#111" stroke="#111" stroke-width="0.22">4</text>
<text transform="translate(470.4,434.30) scale(0.86,1)" font-size="7.42" textLength="38.14" lengthAdjust="spacing" word-spacing="-0.6" fill="#111" stroke="#111" stroke-width="0.4">mRARa 2</text>
</g>
<g>
<path d="M411.10 658.60V656.20" stroke="#333" stroke-width="0.95" fill="none"/><path d="M408.95 656.40H413.25" stroke="#222" stroke-width="1.15" fill="none"/>
<rect x="403.10" y="658.60" width="16.00" height="10.50" fill="#000"/>
<path d="M411.10 668.80V671.80" stroke="#333" stroke-width="0.8" fill="none"/>
<path d="M435.10 580.80V562.00" stroke="#333" stroke-width="0.95" fill="none"/><path d="M432.95 562.20H437.25" stroke="#222" stroke-width="1.15" fill="none"/>
<rect x="427.10" y="580.80" width="16.00" height="88.30" fill="#000"/>
<path d="M435.10 668.80V671.80" stroke="#333" stroke-width="0.8" fill="none"/>
<path d="M459.10 632.50V617.70" stroke="#333" stroke-width="0.95" fill="none"/><path d="M456.95 617.90H461.25" stroke="#222" stroke-width="1.15" fill="none"/>
<rect x="451.10" y="632.50" width="16.00" height="36.60" fill="#000"/>
<path d="M459.10 668.80V671.80" stroke="#333" stroke-width="0.8" fill="none"/>
<rect x="475.10" y="637.40" width="16.00" height="31.70" fill="#000"/>
<path d="M483.10 668.80V671.80" stroke="#333" stroke-width="0.8" fill="none"/>
<path d="M507.10 602.00V592.50" stroke="#333" stroke-width="0.95" fill="none"/><path d="M504.95 592.70H509.25" stroke="#222" stroke-width="1.15" fill="none"/>
<rect x="499.10" y="602.00" width="16.00" height="67.10" fill="#000"/>
<path d="M507.10 668.80V671.80" stroke="#333" stroke-width="0.8" fill="none"/>
<rect x="399.30" y="550.40" width="119.60" height="118.40" fill="none" stroke="#333" stroke-width="0.9"/>
<path d="M395.80 668.80H399.30" stroke="#333" stroke-width="0.8" fill="none"/>
<text x="395.50" y="670.82" font-size="5.7" text-anchor="end" letter-spacing="1.5" fill="#111" stroke="#111" stroke-width="0.22">0</text>
<path d="M395.80 639.20H399.30" stroke="#333" stroke-width="0.8" fill="none"/>
<text x="395.50" y="641.22" font-size="5.7" text-anchor="end" letter-spacing="1.5" fill="#111" stroke="#111" stroke-width="0.22">25</text>
<path d="M395.80 609.60H399.30" stroke="#333" stroke-width="0.8" fill="none"/>
<text x="395.50" y="611.62" font-size="5.7" text-anchor="end" letter-spacing="1.5" fill="#111" stroke="#111" stroke-width="0.22">50</text>
<path d="M395.80 580.00H399.30" stroke="#333" stroke-width="0.8" fill="none"/>
<text x="395.50" y="582.02" font-size="5.7" text-anchor="end" letter-spacing="1.5" fill="#111" stroke="#111" stroke-width="0.22">75</text>
<path d="M395.80 550.40H399.30" stroke="#333" stroke-width="0.8" fill="none"/>
<text x="395.50" y="552.42" font-size="5.7" text-anchor="end" letter-spacing="1.5" fill="#111" stroke="#111" stroke-width="0.22">100</text>
<text transform="translate(462.0,563.20) scale(0.92,1)" font-size="7.21" textLength="35.65" lengthAdjust="spacing" word-spacing="1.2" fill="#111" stroke="#111" stroke-width="0.2">mRARß2</text>
</g>
<g>
<rect x="401.00" y="763.70" width="16.60" height="35.20" fill="#000"/>
<path d="M409.30 798.60V801.60" stroke="#333" stroke-width="0.8" fill="none"/>
<path d="M433.10 723.00V694.20" stroke="#333" stroke-width="0.95" fill="none"/><path d="M430.95 694.40H435.25" stroke="#222" stroke-width="1.15" fill="none"/>
<rect x="424.80" y="723.00" width="16.60" height="75.90" fill="#000"/>
<path d="M433.10 798.60V801.60" stroke="#333" stroke-width="0.8" fill="none"/>
<path d="M456.90 706.20V694.20" stroke="#333" stroke-width="0.95" fill="none"/><path d="M454.75 694.40H459.05" stroke="#222" stroke-width="1.15" fill="none"/>
<rect x="448.60" y="706.20" width="16.60" height="92.70" fill="#000"/>
<path d="M456.90 798.60V801.60" stroke="#333" stroke-width="0.8" fill="none"/>
<path d="M480.70 701.80V683.70" stroke="#333" stroke-width="0.95" fill="none"/><path d="M478.55 683.90H482.85" stroke="#222" stroke-width="1.15" fill="none"/>
<rect x="472.40" y="701.80" width="16.60" height="97.10" fill="#000"/>
<path d="M480.70 798.60V801.60" stroke="#333" stroke-width="0.8" fill="none"/>
<rect x="496.20" y="689.80" width="16.60" height="109.10" fill="#000"/>
<path d="M504.50 798.60V801.60" stroke="#333" stroke-width="0.8" fill="none"/>
<rect x="397.30" y="679.60" width="118.70" height="119.00" fill="none" stroke="#333" stroke-width="1.25"/>
<path d="M393.80 798.60H397.30" stroke="#333" stroke-width="0.8" fill="none"/>
<text x="393.50" y="800.62" font-size="5.7" text-anchor="end" letter-spacing="1.5" fill="#111" stroke="#111" stroke-width="0.22">0</text>
<path d="M393.80 768.85H397.30" stroke="#333" stroke-width="0.8" fill="none"/>
<text x="393.50" y="770.87" font-size="5.7" text-anchor="end" letter-spacing="1.5" fill="#111" stroke="#111" stroke-width="0.22">1</text>
<path d="M393.80 739.10H397.30" stroke="#333" stroke-width="0.8" fill="none"/>
<text x="393.50" y="741.12" font-size="5.7" text-anchor="end" letter-spacing="1.5" fill="#111" stroke="#111" stroke-width="0.22">2</text>
<path d="M393.80 709.35H397.30" stroke="#333" stroke-width="0.8" fill="none"/>
<text x="393.50" y="711.37" font-size="5.7" text-anchor="end" letter-spacing="1.5" fill="#111" stroke="#111" stroke-width="0.22">3</text>
<path d="M393.80 679.60H397.30" stroke="#333" stroke-width="0.8" fill="none"/>
<text x="393.50" y="681.62" font-size="5.7" text-anchor="end" letter-spacing="1.5" fill="#111" stroke="#111" stroke-width="0.22">4</text>
<text transform="translate(401.9,692.50) scale(0.92,1)" font-size="8.24" textLength="26.30" lengthAdjust="spacing" word-spacing="1.2" fill="#111" stroke="#111" stroke-width="0.2">TREp</text>
<text transform="translate(413.20,831.50) rotate(-90) scale(0.9,1)" font-size="8.5" textLength="30.89" lengthAdjust="spacing" fill="#000" stroke="#000" stroke-width="0.3">Vector</text>
<text transform="translate(437.00,828.00) rotate(-90) scale(0.9,1)" font-size="8.5" textLength="27.00" lengthAdjust="spacing" fill="#000" stroke="#000" stroke-width="0.3">RARA</text>
<text transform="translate(460.80,844.70) rotate(-90) scale(0.9,1)" font-size="8.5" textLength="45.56" lengthAdjust="spacing" fill="#000" stroke="#000" stroke-width="0.3">PML-RAR</text>
<text transform="translate(484.60,854.00) rotate(-90) scale(0.9,1)" font-size="8.5" textLength="55.89" lengthAdjust="spacing" fill="#000" stroke="#000" stroke-width="0.3">NPM-RAR S</text>
<text transform="translate(508.40,854.00) rotate(-90) scale(0.9,1)" font-size="8.5" textLength="55.89" lengthAdjust="spacing" fill="#000" stroke="#000" stroke-width="0.3">NPM-RAR L</text>
</g>
</svg>
</body>
</html>
